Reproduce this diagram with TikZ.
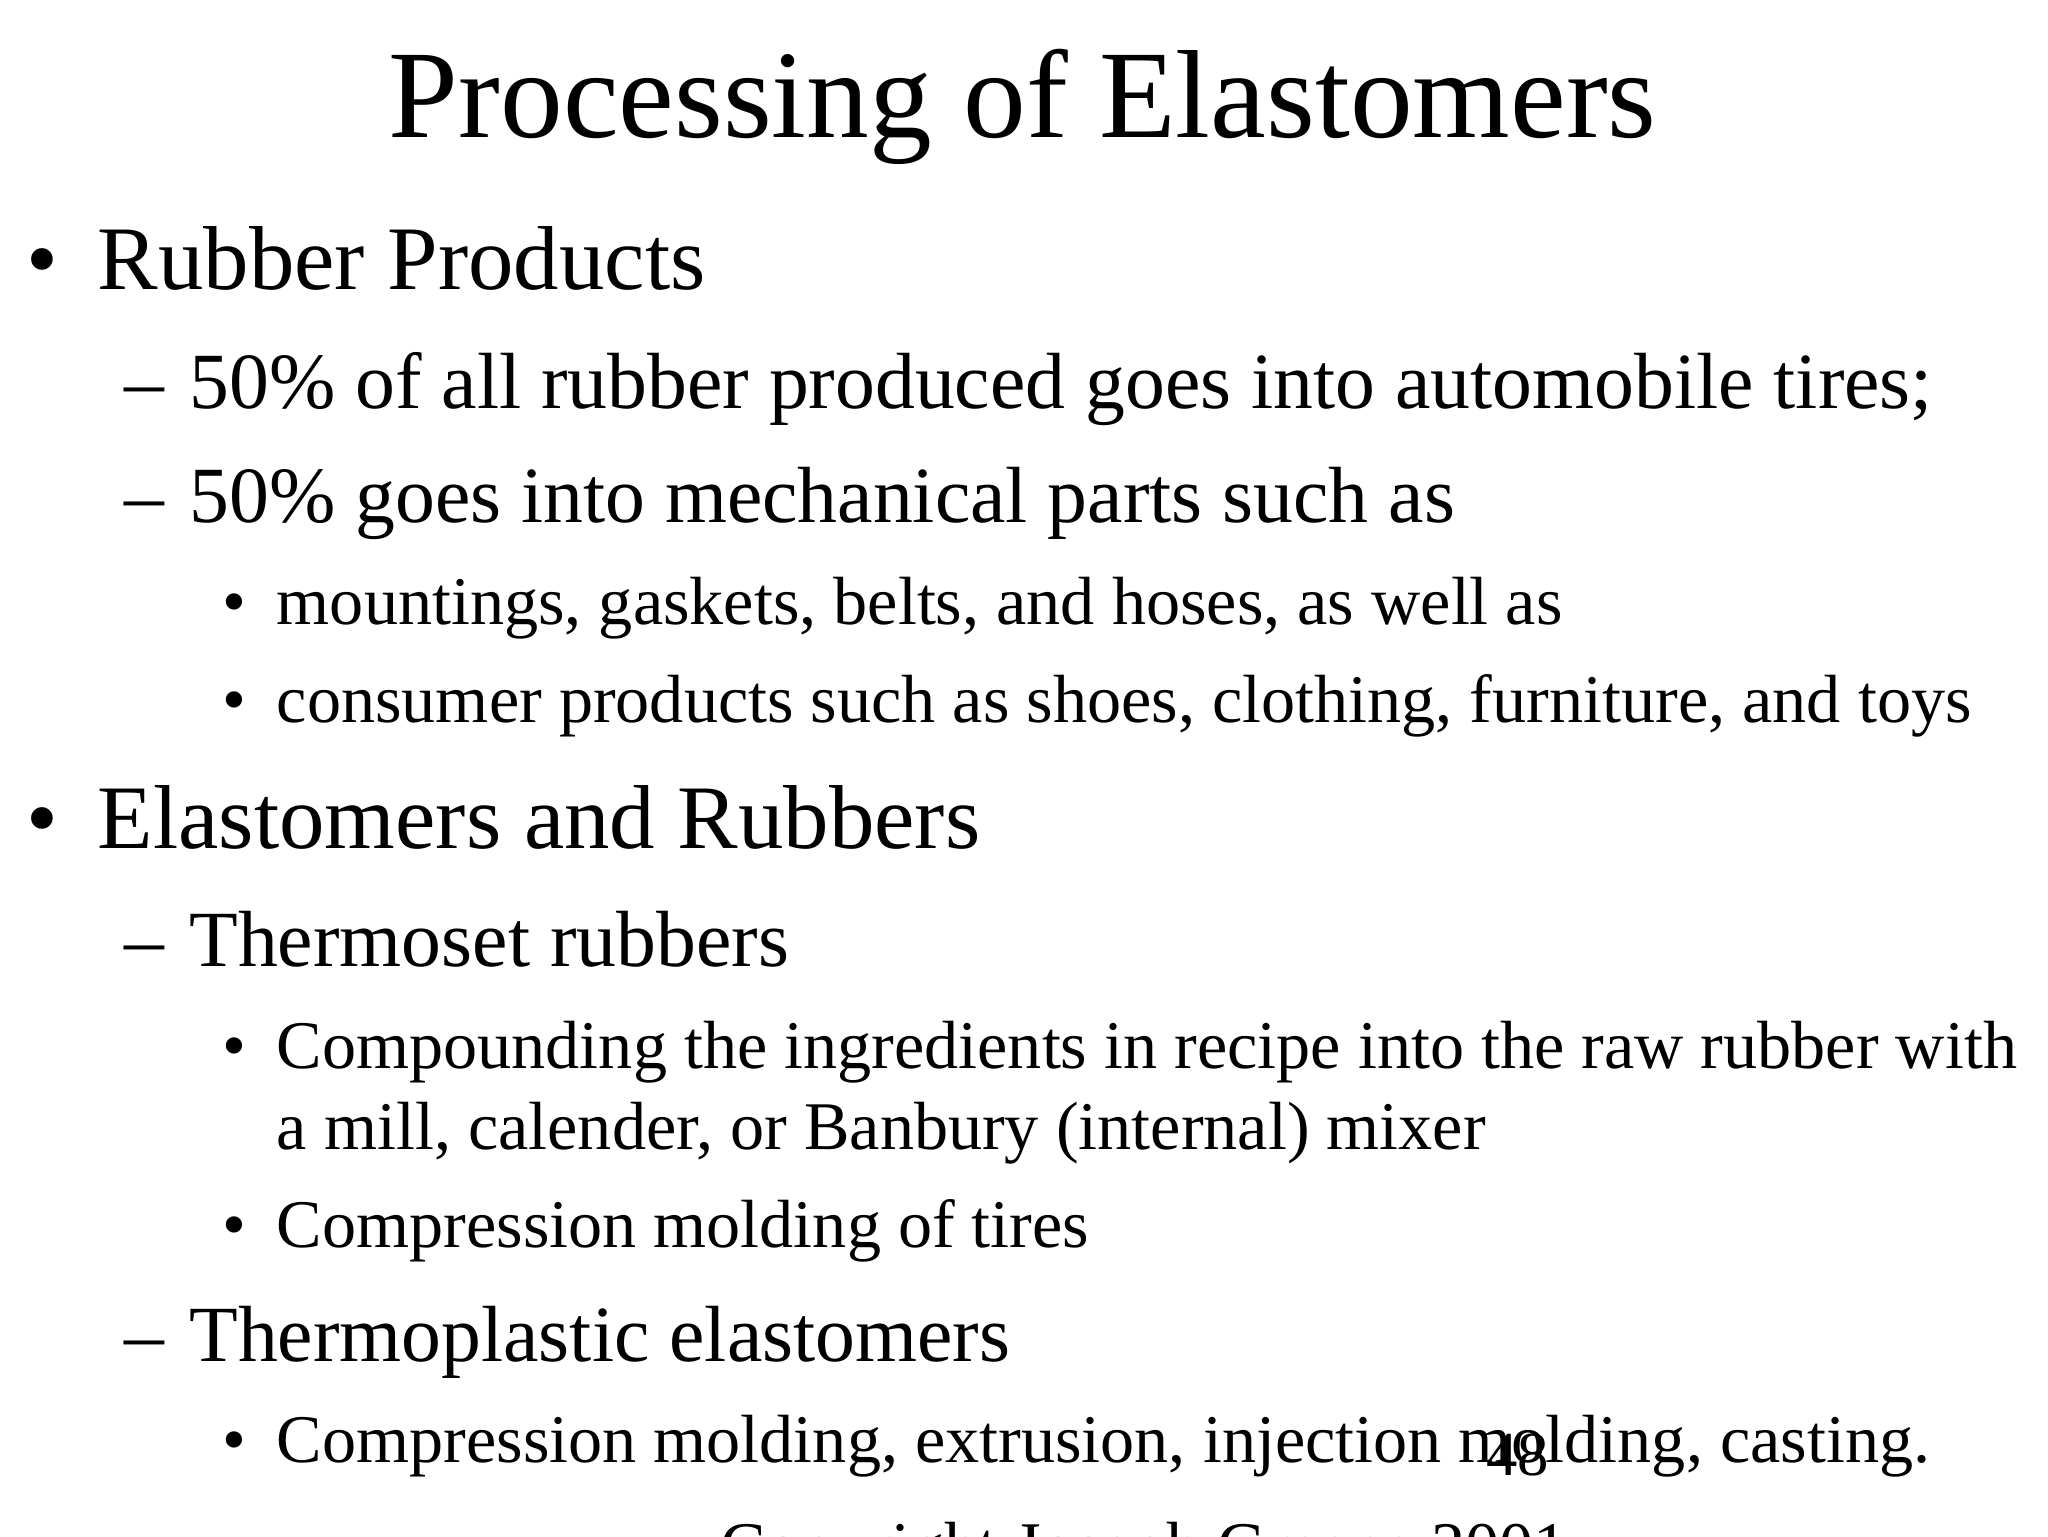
\documentclass[tikz,border=0pt]{standalone}
\usepackage{fontspec}
\setmainfont{Liberation Serif}
\begin{document}
\begin{tikzpicture}[x=1pt,y=-1pt,
  t/.style={anchor=base west,inner sep=0pt,outer sep=0pt},
  ti/.style={anchor=base,inner sep=0pt,font=\fontsize{96}{110}\selectfont},
  la/.style={t,font=\fontsize{69.5}{80}\selectfont},
  lb/.style={t,font=\fontsize{61}{70}\selectfont},
  lc/.style={t,font=\fontsize{52.2}{62}\selectfont}]
\useasboundingbox[fill=white] (0,0) rectangle (1568,1176);
\node[ti] (title) at (783,105) {Processing of Elastomers};
\node[la] (b1) at (20,222) {•};
\node[la] (a1) at (75,222) {Rubber Products};
\node[lb] (d1) at (95,313) {–};
\node[lb] (a2) at (145,313) {50\% of all rubber produced goes into automobile tires;};
\node[lb] (d2) at (95,400) {–};
\node[lb] (a3) at (145,400) {50\% goes into mechanical parts such as};
\node[lc] (b3) at (170,478) {•};
\node[lc] (a4) at (212,478) {mountings, gaskets, belts, and hoses, as well as};
\node[lc] (b4) at (170,553) {•};
\node[lc] (a5) at (212,553) {consumer products such as shoes, clothing, furniture, and toys};
\node[la] (b2) at (20,650) {•};
\node[la] (a6) at (75,650) {Elastomers and Rubbers};
\node[lb] (d3) at (95,740) {–};
\node[lb] (a7) at (145,740) {Thermoset rubbers};
\node[lc] (b5) at (170,818) {•};
\node[lc] (a8) at (212,818) {Compounding the ingredients in recipe into the raw rubber with};
\node[lc] (a9) at (212,880) {a mill, calender, or Banbury (internal) mixer};
\node[lc] (b6) at (170,955) {•};
\node[lc] (a10) at (212,955) {Compression molding of tires};
\node[lb] (d4) at (95,1042) {–};
\node[lb] (a11) at (145,1042) {Thermoplastic elastomers};
\node[lc] (b7) at (170,1120) {•};
\node[lc] (a12) at (212,1120) {Compression molding, extrusion, injection molding, casting.};
\node[t,font=\fontsize{48}{56}\selectfont] (pg) at (1138,1130) {48};
\node[lc] (cp) at (552,1202) {Copyright Joseph Greene 2001};
\end{tikzpicture}
\end{document}
